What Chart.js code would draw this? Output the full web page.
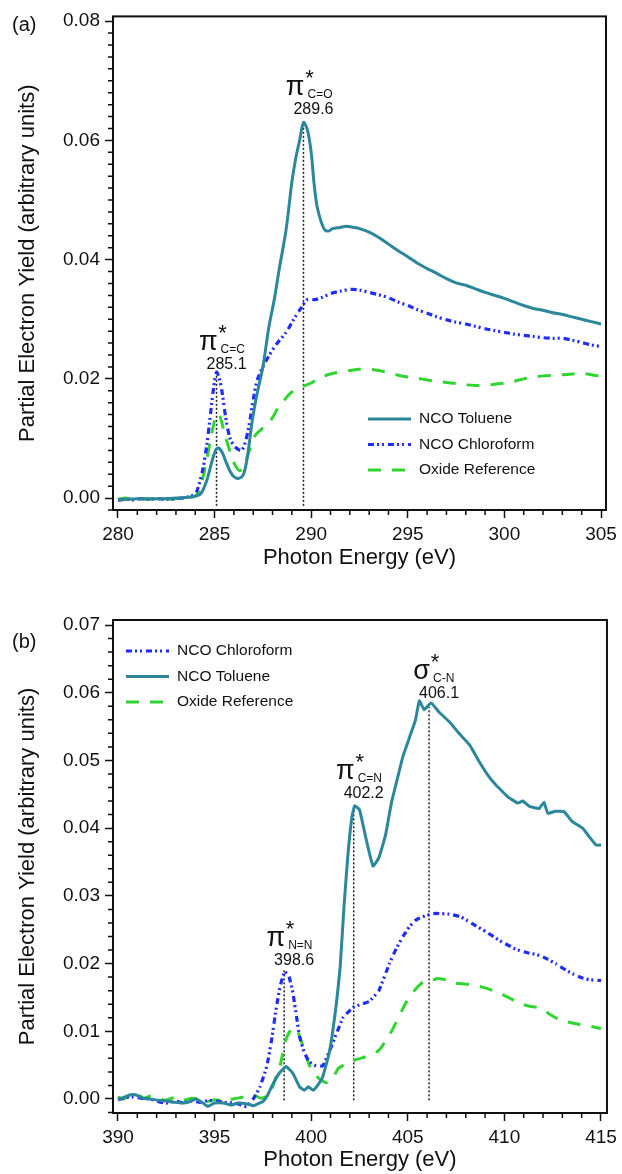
<!DOCTYPE html>
<html>
<head>
<meta charset="utf-8">
<script src="https://cdn.jsdelivr.net/npm/chart.js@4.4.1/dist/chart.umd.min.js"></script>
<style>
  html, body { margin: 0; padding: 0; background: #fff; }
  #wrap { position: relative; width: 622px; height: 1174px; }
  .panel { position: absolute; left: 0; width: 622px; }
  #pa { top: 0; height: 578px; }
  #pb { top: 578px; height: 596px; }
</style>
</head>
<body>
<div id="wrap">
  <div class="panel" id="pa"><canvas id="chartA"></canvas></div>
  <div class="panel" id="pb"><canvas id="chartB"></canvas></div>
</div>
<script>
// ---- panel (a): C K-edge ----
const energyTolA = [280.0, 280.5, 281.0, 281.5, 282.0, 282.5, 283.0, 283.5, 284.0, 284.3, 284.6, 284.85, 285.05, 285.2, 285.4, 285.6, 285.8, 286.0, 286.25, 286.5, 286.7, 286.95, 287.2, 287.5, 287.8, 288.1, 288.35, 288.7, 289.0, 289.2, 289.4, 289.6, 289.8, 290.0, 290.15, 290.3, 290.5, 290.7, 290.9, 291.1, 291.5, 291.8, 292.2, 292.5, 293.0, 293.5, 294.0, 294.5, 295.0, 295.5, 296.0, 296.5, 297.0, 297.5, 298.0, 298.5, 299.0, 299.5, 300.0, 300.5, 301.0, 301.5, 302.0, 302.5, 303.0, 303.5, 304.0, 304.5, 305.0];
const yieldTolA = [-0.0003, -0.0002, -0.0001, -0.0001, -0.0001, -0.0001, 0.0000, 0.0001, 0.0003, 0.0008, 0.0030, 0.0060, 0.0080, 0.0084, 0.0076, 0.0060, 0.0045, 0.0036, 0.0033, 0.0040, 0.0070, 0.0130, 0.0175, 0.0220, 0.0285, 0.0335, 0.0385, 0.0450, 0.0530, 0.0570, 0.0600, 0.0630, 0.0618, 0.0580, 0.0527, 0.0490, 0.0465, 0.0450, 0.0448, 0.0452, 0.0454, 0.0456, 0.0454, 0.0452, 0.0446, 0.0437, 0.0426, 0.0415, 0.0405, 0.0394, 0.0385, 0.0377, 0.0368, 0.0361, 0.0357, 0.0351, 0.0345, 0.0340, 0.0335, 0.0329, 0.0323, 0.0318, 0.0315, 0.0311, 0.0308, 0.0304, 0.0300, 0.0296, 0.0292];

const energyChlA = [280.0, 280.4, 280.8, 281.2, 281.6, 282.0, 282.5, 283.0, 283.5, 283.9, 284.1, 284.4, 284.6, 284.75, 284.95, 285.1, 285.25, 285.4, 285.6, 285.8, 286.0, 286.2, 286.4, 286.6, 286.8, 287.0, 287.2, 287.5, 287.8, 288.2, 288.7, 289.1, 289.5, 289.8, 290.2, 290.6, 291.0, 291.5, 292.0, 292.5, 293.0, 293.5, 294.0, 294.5, 295.0, 295.5, 296.0, 296.5, 297.0, 297.5, 298.0, 298.5, 299.0, 299.5, 300.0, 300.5, 301.0, 301.5, 302.0, 302.5, 303.0, 303.5, 304.0, 304.5, 305.0];
const yieldChlA = [-0.0004, -0.0002, -0.0003, -0.0001, -0.0002, -0.0001, -0.0002, -0.0001, 0.0001, 0.0005, 0.0013, 0.0050, 0.0090, 0.0130, 0.0185, 0.0211, 0.0200, 0.0175, 0.0130, 0.0100, 0.0088, 0.0082, 0.0080, 0.0095, 0.0125, 0.0165, 0.0197, 0.0220, 0.0238, 0.0258, 0.0278, 0.0300, 0.0320, 0.0333, 0.0333, 0.0337, 0.0343, 0.0347, 0.0350, 0.0349, 0.0345, 0.0341, 0.0336, 0.0329, 0.0323, 0.0316, 0.0310, 0.0304, 0.0299, 0.0295, 0.0292, 0.0288, 0.0284, 0.0281, 0.0278, 0.0275, 0.0273, 0.0271, 0.0269, 0.0268, 0.0268, 0.0265, 0.0261, 0.0257, 0.0254];

const energyOxA = [280.0, 280.4, 280.8, 281.2, 281.6, 282.0, 282.4, 282.8, 283.2, 283.6, 284.0, 284.2, 284.4, 284.6, 284.8, 285.0, 285.15, 285.3, 285.5, 285.7, 285.9, 286.1, 286.3, 286.5, 286.7, 286.9, 287.1, 287.4, 287.7, 288.0, 288.35, 288.7, 289.0, 289.4, 289.7, 290.0, 290.3, 290.7, 291.1, 291.6, 292.0, 292.5, 293.0, 293.5, 294.0, 294.5, 295.0, 295.5, 296.0, 296.5, 297.0, 297.5, 298.0, 298.5, 299.0, 299.5, 300.0, 300.5, 301.0, 301.5, 302.0, 302.5, 303.0, 303.5, 304.0, 304.5, 305.0];
const yieldOxA = [-0.0002, 0.0000, -0.0003, -0.0001, -0.0002, -0.0001, 0.0000, -0.0002, 0.0000, 0.0001, 0.0003, 0.0012, 0.0035, 0.0065, 0.0100, 0.0130, 0.0142, 0.0135, 0.0110, 0.0088, 0.0068, 0.0053, 0.0046, 0.0052, 0.0070, 0.0090, 0.0105, 0.0115, 0.0122, 0.0135, 0.0155, 0.0168, 0.0178, 0.0185, 0.0189, 0.0193, 0.0199, 0.0205, 0.0209, 0.0212, 0.0214, 0.0216, 0.0216, 0.0214, 0.0210, 0.0206, 0.0203, 0.0201, 0.0198, 0.0196, 0.0194, 0.0192, 0.0190, 0.0189, 0.0189, 0.0191, 0.0193, 0.0196, 0.0200, 0.0203, 0.0205, 0.0206, 0.0207, 0.0208, 0.0209, 0.0207, 0.0204];

const xTicksA = [280, 285, 290, 295, 300, 305];
const yTicksA = [0, 0.02, 0.04, 0.06, 0.08];
const peakEnergyA = [285.1, 289.6];
const peakTopA = [0.0211, 0.0626];
const peakTextYA = [0.0216, 0.0645];
const peakGreekA = ['π', 'π'];
const peakSubA = ['C=C', 'C=O'];

// ---- panel (b): N K-edge ----
const energyTolB = [390.0, 390.35, 390.6, 390.95, 391.3, 391.65, 392.1, 392.5, 392.95, 393.35, 393.7, 394.05, 394.4, 394.65, 395.0, 395.45, 395.85, 396.2, 396.65, 397.0, 397.25, 397.5, 397.75, 398.0, 398.35, 398.7, 399.05, 399.4, 399.65, 399.85, 400.1, 400.35, 400.6, 400.95, 401.3, 401.5, 401.7, 401.9, 402.1, 402.25, 402.5, 402.85, 403.2, 403.5, 403.85, 404.15, 404.4, 404.75, 405.1, 405.4, 405.6, 405.85, 406.2, 406.6, 407.15, 407.65, 408.2, 408.7, 409.2, 409.55, 409.9, 410.15, 410.4, 410.7, 410.95, 411.3, 411.8, 412.05, 412.25, 412.65, 413.1, 413.5, 414.05, 414.4, 414.75, 415.0];
const yieldTolB = [-0.0001, 0.0003, 0.0006, 0.0006, 0.0001, 0.0000, -0.0002, -0.0003, -0.0005, -0.0006, -0.0004, 0.0000, -0.0006, -0.0011, -0.0006, -0.0006, -0.0009, -0.0006, -0.0007, -0.0010, -0.0007, -0.0004, 0.0006, 0.0021, 0.0038, 0.0048, 0.0038, 0.0018, 0.0013, 0.0018, 0.0013, 0.0021, 0.0033, 0.0070, 0.0140, 0.0195, 0.0285, 0.0360, 0.0415, 0.0433, 0.0427, 0.0383, 0.0344, 0.0356, 0.0390, 0.0437, 0.0466, 0.0506, 0.0535, 0.0560, 0.0588, 0.0575, 0.0585, 0.0572, 0.0557, 0.0540, 0.0523, 0.0498, 0.0476, 0.0464, 0.0454, 0.0447, 0.0442, 0.0437, 0.0440, 0.0432, 0.0429, 0.0438, 0.0422, 0.0425, 0.0424, 0.0410, 0.0400, 0.0387, 0.0375, 0.0375];

const energyChlB = [390.0, 390.4, 390.8, 391.2, 391.65, 392.1, 392.5, 392.95, 393.4, 393.8, 394.25, 394.7, 395.1, 395.5, 395.95, 396.3, 396.65, 397.0, 397.35, 397.7, 397.95, 398.2, 398.4, 398.62, 398.85, 399.05, 399.25, 399.4, 399.65, 399.9, 400.25, 400.6, 400.95, 401.3, 401.65, 402.15, 402.6, 403.0, 403.5, 404.05, 404.4, 404.75, 405.1, 405.45, 405.95, 406.45, 407.15, 407.75, 408.1, 408.45, 409.05, 409.75, 410.6, 411.2, 411.7, 412.2, 412.7, 413.2, 413.6, 414.0, 414.4, 415.0];
const yieldChlB = [-0.0001, 0.0002, 0.0003, 0.0001, 0.0000, -0.0004, -0.0006, -0.0003, -0.0006, -0.0003, -0.0005, -0.0002, -0.0003, -0.0005, -0.0006, -0.0008, -0.0011, 0.0000, 0.0018, 0.0048, 0.0087, 0.0136, 0.0167, 0.0188, 0.0181, 0.0157, 0.0120, 0.0092, 0.0068, 0.0055, 0.0049, 0.0049, 0.0071, 0.0096, 0.0120, 0.0135, 0.0140, 0.0144, 0.0160, 0.0200, 0.0222, 0.0240, 0.0255, 0.0265, 0.0271, 0.0274, 0.0273, 0.0269, 0.0263, 0.0257, 0.0247, 0.0234, 0.0221, 0.0216, 0.0213, 0.0207, 0.0199, 0.0190, 0.0184, 0.0179, 0.0176, 0.0175];

const energyOxB = [390.0, 390.3, 390.6, 390.95, 391.3, 391.65, 392.0, 392.4, 392.75, 393.05, 393.4, 393.8, 394.2, 394.6, 395.0, 395.45, 395.95, 396.3, 396.65, 397.0, 397.4, 397.85, 398.1, 398.4, 398.7, 399.0, 399.3, 399.6, 399.9, 400.2, 400.5, 400.8, 401.1, 401.4, 401.8, 402.3, 402.8, 403.3, 403.6, 404.2, 404.9, 405.4, 405.8, 406.1, 406.5, 407.0, 407.5, 408.35, 409.0, 409.6, 410.2, 410.8, 411.3, 411.8, 412.3, 412.85, 413.4, 413.9, 414.5, 415.0];
const yieldOxB = [0.0003, 0.0000, 0.0005, 0.0009, 0.0001, 0.0004, 0.0003, -0.0002, 0.0001, 0.0003, -0.0002, 0.0001, 0.0000, -0.0004, -0.0001, -0.0003, 0.0000, 0.0002, 0.0003, 0.0006, 0.0001, 0.0006, 0.0026, 0.0050, 0.0088, 0.0105, 0.0100, 0.0076, 0.0050, 0.0036, 0.0028, 0.0024, 0.0030, 0.0045, 0.0052, 0.0058, 0.0062, 0.0067, 0.0075, 0.0102, 0.0142, 0.0162, 0.0173, 0.0173, 0.0178, 0.0176, 0.0171, 0.0169, 0.0164, 0.0158, 0.0150, 0.0141, 0.0137, 0.0135, 0.0126, 0.0117, 0.0113, 0.0110, 0.0107, 0.0104];

const xTicksB = [390, 395, 400, 405, 410, 415];
const yTicksB = [0, 0.01, 0.02, 0.03, 0.04, 0.05, 0.06, 0.07];
const peakEnergyB = [398.6, 402.2, 406.1];
const peakTopB = [0.0191, 0.0431, 0.0579];
const peakTextYB = [0.0198, 0.0445, 0.0592];
const peakGreekB = ['π', 'π', 'σ'];
const peakSubB = ['N=N', 'C=N', 'C-N'];

const FONT = "'Liberation Sans', Arial, Helvetica, sans-serif";
const INK = '#111';
const TEAL = '#2b8799';
const BLUE = '#1f2bff';
const GREEN = '#2fd62f';

Chart.defaults.font.family = FONT;
Chart.defaults.color = INK;

const pts = (xs, ys) => xs.map((x, i) => ({ x, y: ys[i] }));

const tolStyle = { borderColor: TEAL, borderWidth: 3, borderDash: [] };
const chlStyle = { borderColor: BLUE, borderWidth: 3.2, borderDash: [6, 3, 2, 3, 2, 4] };
const oxStyle = { borderColor: GREEN, borderWidth: 3, borderDash: [13, 11] };

// frame, minor ticks, peak labels, legend, panel letter
const decorations = {
  id: 'decorations',
  afterDraw(chart, args, o) {
    const { ctx, chartArea: a, scales: { x, y } } = chart;
    ctx.save();
    ctx.strokeStyle = INK;
    ctx.lineWidth = 1.5;
    ctx.beginPath();
    for (let v = Math.ceil(x.min); v <= x.max; v++) {
      if (v % 5 === 0) continue;
      const px = x.getPixelForValue(v);
      ctx.moveTo(px, a.bottom);
      ctx.lineTo(px, a.bottom + 5);
    }
    const per = Math.round(o.yMajor / o.yMinor);
    for (let k = Math.ceil(y.min / o.yMinor); k * o.yMinor <= y.max; k++) {
      if (k % per === 0) continue;
      const py = y.getPixelForValue(k * o.yMinor);
      ctx.moveTo(a.left, py);
      ctx.lineTo(a.left - 5, py);
    }
    ctx.stroke();
    ctx.lineWidth = 2;
    ctx.strokeRect(a.left, a.top, a.width, a.height);

    // peak labels
    ctx.fillStyle = INK;
    ctx.textBaseline = 'alphabetic';
    o.peaks.energy.forEach((e, i) => {
      const L = x.getPixelForValue(e);
      const B = y.getPixelForValue(o.peaks.textY[i]);
      ctx.font = `16px ${FONT}`;
      ctx.textAlign = 'center';
      ctx.fillText(e.toFixed(1), L + 10, B);
      ctx.font = `27px ${FONT}`;
      ctx.textAlign = 'right';
      ctx.fillText(o.peaks.greek[i], L + 1, B - 19);
      ctx.font = `22px ${FONT}`;
      ctx.textAlign = 'center';
      ctx.fillText('*', L + 6, B - 29);
      ctx.font = `12px ${FONT}`;
      ctx.textAlign = 'left';
      ctx.fillText(o.peaks.sub[i], L + 4, B - 16);
    });

    // legend
    ctx.font = `15.5px ${FONT}`;
    ctx.textAlign = 'left';
    ctx.textBaseline = 'middle';
    o.legend.order.forEach((di, row) => {
      const ds = chart.data.datasets[di];
      const ly = o.legend.y + row * 25.5;
      ctx.save();
      ctx.strokeStyle = ds.borderColor;
      ctx.lineWidth = ds.borderWidth;
      ctx.setLineDash(ds.borderDash || []);
      ctx.beginPath();
      ctx.moveTo(o.legend.x, ly);
      ctx.lineTo(o.legend.x + 43, ly);
      ctx.stroke();
      ctx.restore();
      ctx.fillText(ds.label, o.legend.x + 51, ly);
    });

    ctx.font = `20px ${FONT}`;
    ctx.textBaseline = 'middle';
    ctx.fillText(o.letter.text, 12, o.letter.y);
    ctx.restore();
  }
};

function makeChart(id, c) {
  const peakSets = c.peaks.energy.map((e, i) => ({
    label: 'peak',
    data: [{ x: e, y: c.peakBottom }, { x: e, y: c.peaks.top[i] }],
    borderColor: '#222', borderWidth: 1.5, borderDash: [2, 2],
    pointRadius: 0, tension: 0
  }));
  return new Chart(document.getElementById(id), {
    type: 'line',
    data: {
      datasets: [
        { label: 'NCO Toluene', data: pts(c.tol[0], c.tol[1]), ...tolStyle },
        { label: 'NCO Chloroform', data: pts(c.chl[0], c.chl[1]), ...chlStyle },
        { label: 'Oxide Reference', data: pts(c.ox[0], c.ox[1]), ...oxStyle },
        ...peakSets
      ]
    },
    options: {
      responsive: true,
      maintainAspectRatio: false,
      animation: false,
      elements: { point: { radius: 0 }, line: { tension: c.tension, fill: false } },
      layout: { autoPadding: false, padding: { left: 0, right: 14, top: c.padTop, bottom: 0 } },
      plugins: {
        legend: { display: false },
        tooltip: { enabled: false },
        decorations: {
          yMajor: c.yMajor, yMinor: 0.002,
          peaks: c.peaks, legend: c.legend, letter: c.letter
        }
      },
      scales: {
        x: {
          type: 'linear', min: c.xMin, max: c.xMax,
          afterBuildTicks: s => { s.ticks = c.xTicks.map(v => ({ value: v })); },
          afterFit: s => { s.height = c.xHeight; },
          grid: { display: true, drawOnChartArea: false, drawTicks: true, tickLength: 8, tickWidth: 1.5, tickColor: INK },
          border: { display: false },
          ticks: { font: { size: 19 }, color: INK, padding: 5, maxRotation: 0, autoSkip: false, callback: v => String(v) },
          title: { display: true, text: 'Photon Energy (eV)', font: { size: 22 }, color: INK, padding: { top: 0, bottom: c.titlePad } }
        },
        y: {
          type: 'linear', min: c.yMin, max: c.yMax,
          afterBuildTicks: s => { s.ticks = c.yTicks.map(v => ({ value: v })); },
          afterFit: s => { s.width = 113; },
          grid: { display: true, drawOnChartArea: false, drawTicks: true, tickLength: 8, tickWidth: 1.5, tickColor: INK },
          border: { display: false },
          ticks: { font: { size: 19 }, color: INK, padding: 5, callback: v => v.toFixed(2) },
          title: { display: true, text: 'Partial Electron Yield (arbitrary units)', font: { size: 22 }, color: INK, padding: { top: 15, bottom: 0 } }
        }
      }
    },
    plugins: [decorations]
  });
}

makeChart('chartA', {
  tol: [energyTolA, yieldTolA], chl: [energyChlA, yieldChlA], ox: [energyOxA, yieldOxA],
  xMin: 279.742, xMax: 305.258, xTicks: xTicksA,
  yMin: -0.0020, yMax: 0.0808, yTicks: yTicksA, yMajor: 0.02,
  padTop: 15, xHeight: 68, titlePad: 7, tension: 0.3,
  peakBottom: -0.0013,
  peaks: { energy: peakEnergyA, top: peakTopA, textY: peakTextYA, greek: peakGreekA, sub: peakSubA },
  legend: { x: 368, y: 419, order: [0, 1, 2] },
  letter: { text: '(a)', y: 25 }
});

makeChart('chartB', {
  tol: [energyTolB, yieldTolB], chl: [energyChlB, yieldChlB], ox: [energyOxB, yieldOxB],
  xMin: 389.742, xMax: 415.31, xTicks: xTicksB,
  yMin: -0.00207, yMax: 0.07074, yTicks: yTicksB, yMajor: 0.01,
  padTop: 42, xHeight: 61, titlePad: 1, tension: 0.12,
  peakBottom: -0.0002,
  peaks: { energy: peakEnergyB, top: peakTopB, textY: peakTextYB, greek: peakGreekB, sub: peakSubB },
  legend: { x: 126, y: 73, order: [1, 0, 2] },
  letter: { text: '(b)', y: 64 }
});
</script>
</body>
</html>
